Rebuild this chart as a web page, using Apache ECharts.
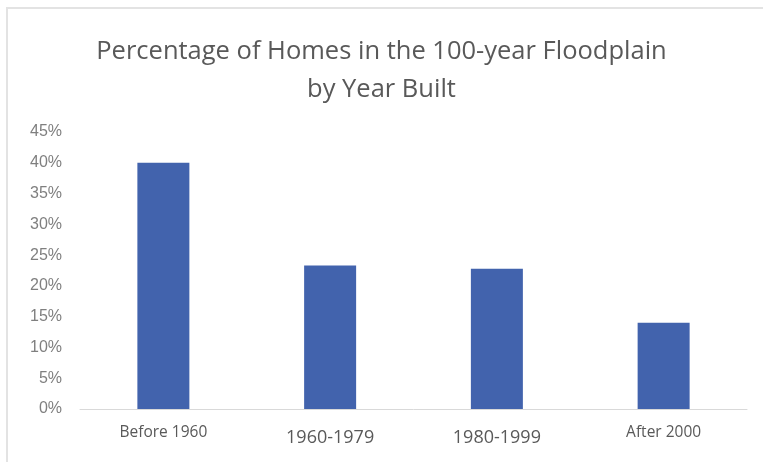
<!DOCTYPE html>
<html>
<head>
<meta charset="utf-8">
<script src="https://cdn.jsdelivr.net/npm/echarts@6/dist/echarts.min.js"></script>
<style>
    html, body { margin: 0; padding: 0; background: #fff; }
    #main { width: 763px; height: 462px; }
</style>
</head>
<body>
<div id="main"></div>
<script>
var categories = ['Before 1960', '1960-1979', '1980-1999', 'After 2000'];
var shares = [40.0, 23.3, 22.8, 14.0];
var yTicks = [0, 5, 10, 15, 20, 25, 30, 35, 40, 45];

// the two outer labels are set smaller than the middle ones
var smallLabels = ['Before 1960', 'After 2000'];

var chart = echarts.init(document.getElementById('main'));

chart.setOption({
    animation: false,
    backgroundColor: '#fff',
    title: {
        text: 'Percentage of Homes in the 100-year Floodplain\nby Year Built',
        left: 'center',
        top: 28,
        textStyle: {
            fontFamily: 'Open Sans',
            fontWeight: 'normal',
            fontSize: 25.5,
            lineHeight: 38,
            color: '#595959'
        }
    },
    graphic: [{
        type: 'rect',
        shape: { x: 7, y: 8, width: 800, height: 500 },
        style: { fill: 'none', stroke: '#e3e3e3', lineWidth: 2 },
        silent: true
    }],
    grid: {
        left: 80,
        right: 16,
        top: 132,
        bottom: 53
    },
    xAxis: {
        type: 'category',
        data: categories,
        axisLine: { lineStyle: { color: '#d9d9d9', width: 1 } },
        axisTick: { show: false },
        axisLabel: {
            margin: 16,
            formatter: function (v) {
                return smallLabels.indexOf(v) >= 0 ? '{s|' + v + '}' : '{b|' + v + '}';
            },
            rich: {
                s: { fontFamily: 'Open Sans', fontSize: 15.5, color: '#595959', padding: [0, 0, 8, 0] },
                b: { fontFamily: 'Open Sans', fontSize: 18, color: '#595959', padding: [4, 0, 0, 0] }
            }
        }
    },
    yAxis: {
        type: 'value',
        min: yTicks[0],
        max: yTicks[yTicks.length - 1],
        interval: 5,
        splitLine: { show: false },
        axisLine: { show: false },
        axisTick: { show: false },
        axisLabel: {
            margin: 18,
            fontFamily: 'Liberation Sans',
            fontSize: 16,
            color: '#7f7f7f',
            formatter: '{value}%'
        }
    },
    series: [{
        type: 'bar',
        data: shares,
        barWidth: 52,
        itemStyle: { color: '#4263ad' }
    }]
});
</script>
</body>
</html>
